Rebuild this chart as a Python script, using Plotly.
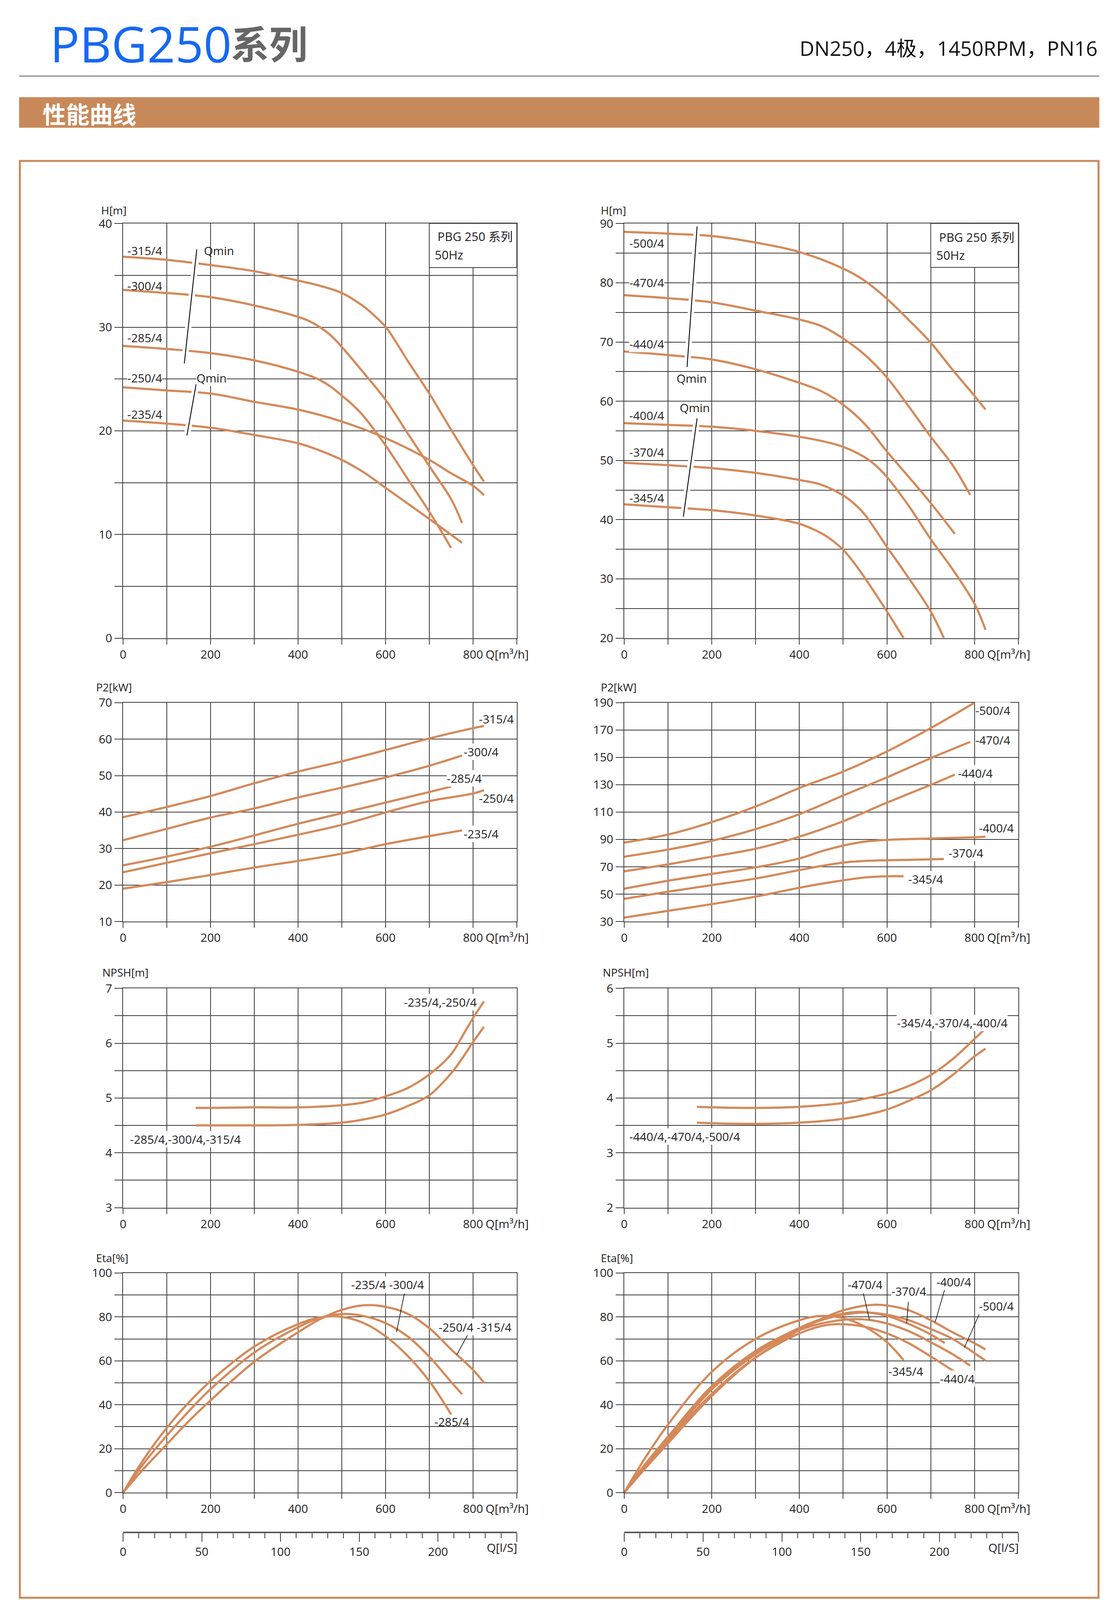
import plotly.graph_objects as go

# ======================= DATA =======================
# --- H curves, left (PBG250 -235 ... -315) ---
HL_Q_315 = [0, 100, 200, 300, 400, 450, 500, 550, 575, 600, 625, 650, 700, 750, 800, 825]
HL_H_315 = [36.8, 36.5, 36.0, 35.4, 34.5, 34.0, 33.3, 32.0, 31.1, 30.05, 28.5, 26.8, 23.6, 20.1, 16.7, 15.1]
HL_Q_300 = [0, 100, 200, 300, 400, 425, 450, 475, 500, 550, 600, 650, 700, 750, 775]
HL_H_300 = [33.6, 33.3, 32.9, 32.1, 31.0, 30.6, 30.0, 29.2, 28.1, 25.6, 23.0, 19.8, 16.6, 13.4, 11.1]
HL_Q_285 = [0, 100, 200, 300, 400, 450, 475, 500, 525, 550, 600, 650, 700, 750]
HL_H_285 = [28.2, 27.9, 27.5, 26.8, 25.7, 24.9, 24.25, 23.4, 22.5, 21.4, 18.6, 15.4, 12.2, 8.7]
HL_Q_250 = [0, 100, 200, 300, 400, 500, 600, 700, 750, 800, 825]
HL_H_250 = [24.2, 23.9, 23.6, 22.8, 22.05, 20.9, 19.3, 17.2, 15.9, 14.7, 13.8]
HL_Q_235 = [0, 100, 200, 300, 400, 450, 500, 550, 600, 700, 775]
HL_H_235 = [21.0, 20.7, 20.3, 19.6, 18.8, 18.1, 17.2, 16.0, 14.5, 11.5, 9.2]

# --- H curves, right (-345 ... -500) ---
HR_Q_500 = [0, 100, 200, 300, 400, 500, 550, 600, 650, 700, 750, 800, 825]
HR_H_500 = [88.6, 88.3, 87.9, 86.8, 85.2, 82.4, 80.3, 77.3, 73.7, 69.9, 65.3, 60.9, 58.6]
HR_Q_470 = [0, 100, 200, 300, 400, 450, 500, 550, 600, 650, 700, 750, 790]
HR_H_470 = [77.9, 77.4, 76.7, 75.3, 73.8, 72.7, 70.6, 67.8, 64.0, 59.1, 54.0, 49.2, 44.2]
HR_Q_440 = [0, 100, 200, 300, 400, 450, 500, 550, 600, 650, 700, 755]
HR_H_440 = [68.4, 67.8, 67.05, 65.4, 63.1, 61.7, 59.4, 56.1, 51.5, 47.2, 42.8, 37.6]
HR_Q_400 = [0, 100, 200, 300, 400, 450, 500, 550, 575, 600, 650, 700, 750, 800, 825]
HR_H_400 = [56.3, 56.0, 55.7, 55.0, 54.0, 53.3, 52.3, 50.5, 49.1, 47.2, 42.3, 36.7, 31.6, 25.8, 21.4]
HR_Q_370 = [0, 100, 200, 300, 400, 450, 500, 525, 550, 600, 650, 700, 730]
HR_H_370 = [49.6, 49.2, 48.7, 47.9, 46.7, 45.9, 44.1, 42.7, 40.8, 35.4, 30.1, 24.5, 20.0]
HR_Q_345 = [0, 100, 200, 300, 400, 450, 475, 500, 525, 550, 600, 638]
HR_H_345 = [42.6, 42.1, 41.6, 40.7, 39.3, 37.7, 36.5, 34.9, 32.7, 30.1, 24.5, 20.0]

# --- P2 left ---
PL_Q_315 = [0, 100, 200, 300, 400, 500, 600, 700, 800, 825]
PL_P_315 = [38.6, 41.4, 44.4, 47.9, 51.1, 53.9, 57.0, 60.2, 63.0, 63.6]
PL_Q_300 = [0, 100, 200, 300, 400, 500, 600, 700, 775]
PL_P_300 = [32.3, 35.4, 38.5, 41.0, 44.0, 46.7, 49.5, 52.7, 55.5]
PL_Q_285 = [0, 100, 200, 300, 400, 500, 600, 700, 750]
PL_P_285 = [25.4, 27.8, 30.5, 33.6, 36.8, 39.7, 42.6, 45.5, 47.0]
PL_Q_250 = [0, 100, 200, 300, 400, 500, 600, 700, 800, 825]
PL_P_250 = [23.5, 26.1, 28.7, 31.2, 33.8, 36.5, 39.9, 43.0, 45.1, 46.0]
PL_Q_235 = [0, 100, 200, 300, 400, 500, 600, 700, 775]
PL_P_235 = [19.0, 20.8, 22.75, 24.8, 26.6, 28.6, 31.2, 33.4, 35.0]

# --- P2 right ---
PR_Q_500 = [0, 100, 200, 300, 400, 500, 600, 700, 800]
PR_P_500 = [87.7, 93.6, 102.7, 114.1, 127.6, 139.6, 154.3, 171.4, 190.0]
PR_Q_470 = [0, 100, 200, 300, 400, 500, 600, 700, 790]
PR_P_470 = [77.4, 82.6, 89.0, 97.5, 108.5, 122.1, 135.4, 149.4, 161.3]
PR_Q_440 = [0, 100, 200, 300, 400, 500, 600, 700, 755]
PR_P_440 = [66.7, 71.8, 77.4, 83.2, 92.0, 103.3, 116.9, 129.9, 137.4]
PR_Q_400 = [0, 100, 200, 300, 400, 450, 500, 550, 600, 700, 800, 825]
PR_P_400 = [54.0, 59.8, 64.8, 69.6, 76.1, 81.3, 85.5, 88.4, 89.7, 90.7, 91.6, 92.0]
PR_Q_370 = [0, 100, 200, 300, 400, 450, 500, 550, 600, 700, 730]
PR_P_370 = [46.6, 51.8, 56.6, 61.4, 67.6, 70.6, 73.1, 74.3, 74.8, 75.4, 75.7]
PR_Q_345 = [0, 100, 200, 300, 400, 450, 500, 550, 600, 638]
PR_P_345 = [32.9, 37.8, 42.7, 48.2, 54.7, 57.6, 60.1, 62.2, 63.1, 63.1]

# --- NPSH left ---
NL_Q_UP = [166, 200, 300, 400, 500, 550, 600, 650, 700, 750, 775, 800, 825]
NL_N_UP = [4.82, 4.82, 4.83, 4.83, 4.87, 4.92, 5.03, 5.18, 5.43, 5.80, 6.12, 6.46, 6.76]
NL_Q_LO = [166, 300, 400, 500, 550, 600, 650, 700, 750, 775, 800, 825]
NL_N_LO = [4.50, 4.50, 4.51, 4.55, 4.61, 4.70, 4.85, 5.05, 5.45, 5.72, 6.02, 6.30]

# --- NPSH right ---
NR_Q_UP = [166, 200, 300, 400, 500, 550, 600, 650, 700, 750, 800, 825]
NR_N_UP = [3.84, 3.83, 3.82, 3.84, 3.91, 3.99, 4.08, 4.22, 4.42, 4.71, 5.08, 5.27]
NR_Q_LO = [166, 200, 300, 400, 500, 550, 600, 650, 700, 750, 800, 825]
NR_N_LO = [3.55, 3.54, 3.53, 3.55, 3.62, 3.69, 3.79, 3.95, 4.14, 4.42, 4.76, 4.90]

# --- Eta left ---
EL_Q_285 = [0, 50, 100, 150, 200, 300, 400, 450, 500, 550, 600, 650, 700, 750]
EL_E_285 = [0, 16, 29.5, 41, 50.8, 66.5, 76.7, 79.8, 80.0, 77.2, 71.2, 62.4, 50.8, 35.6]
EL_Q_300 = [0, 50, 100, 150, 200, 300, 400, 450, 500, 550, 600, 650, 700, 750, 775]
EL_E_300 = [0, 14, 26, 37, 47.1, 63.8, 75.3, 79.6, 81.3, 80.4, 77.2, 71.2, 61.9, 50.4, 44.8]
EL_Q_315 = [0, 50, 100, 150, 200, 300, 400, 450, 500, 550, 600, 650, 700, 750, 800, 825]
EL_E_315 = [0, 11.5, 22, 32.5, 42.0, 59.6, 73.0, 79.0, 83.2, 85.3, 84.6, 81.5, 74.9, 65.2, 55.9, 50.1]

# --- Eta right ---
ER_Q_345 = [0, 50, 100, 200, 300, 400, 445, 500, 550, 600, 638]
ER_E_345 = [0, 16.5, 31, 55, 70, 78.5, 80.4, 79.5, 75.5, 68.5, 60.3]
ER_Q_440 = [0, 50, 100, 200, 300, 400, 450, 490, 550, 600, 650, 700, 755]
ER_E_440 = [0, 12.5, 23.5, 45, 61.5, 72.5, 75.8, 76.7, 75.5, 72.5, 68, 62, 55.0]
ER_Q_400 = [0, 50, 100, 200, 300, 400, 450, 500, 565, 600, 650, 700, 750, 800, 825]
ER_E_400 = [0, 11.5, 22.5, 44, 61.5, 74, 79, 83, 85.5, 85.2, 83, 78.5, 73, 68, 65.2]
ER_Q_370 = [0, 50, 100, 200, 300, 400, 450, 500, 540, 600, 645, 700, 732]
ER_E_370 = [0, 13.5, 25.5, 48.5, 64.5, 75, 79, 81.5, 82.3, 80.5, 77.2, 72, 68.1]
ER_Q_500 = [0, 50, 100, 200, 300, 400, 450, 500, 550, 600, 650, 700, 750, 800, 825]
ER_E_500 = [0, 12.5, 24, 47, 63, 74.5, 78.5, 81, 82, 81, 78.5, 74.5, 70, 63.5, 60.1]
ER_Q_470 = [0, 50, 100, 200, 300, 400, 450, 520, 560, 600, 650, 700, 750, 790]
ER_E_470 = [0, 13.5, 25, 48, 64, 74, 77, 79, 78.6, 77, 73.5, 68.5, 63, 57.8]

# --- Qmin marker lines (Q, value pairs) ---
QMIN_L1_Q = [168.5, 140]
QMIN_L1_H = [37.5, 26.5]
QMIN_L2_Q = [167, 146]
QMIN_L2_H = [24.5, 19.55]
QMIN_R1_Q = [166.4, 143.5]
QMIN_R1_H = [89.5, 65.8]
QMIN_R2_Q = [166.4, 135]
QMIN_R2_H = [57.1, 40.5]

# --- label pointer lines in Eta charts ---
PTR_EL_Q = [[643, 625], [790, 763]]
PTR_EL_E = [[90.6, 73.0], [72.6, 62.8]]
PTR_ER_Q = [[546, 560], [649, 645], [732, 710], [812, 777]]
PTR_ER_E = [[90.8, 78.6], [86.9, 77.2], [92.6, 77.6], [81.8, 66.1]]

# --- tick labels ---
Q_TICKS = list(range(0, 901, 100))
Q_TICKTEXT = ["0", "", "200", "", "400", "", "600", "", "800", ""]
LS_TICKS = [0, 50, 100, 150, 200, 250]
LS_TICKTEXT = ["0", "50", "100", "150", "200", ""]

# ======================= STYLE / LAYOUT =======================
W, H = 2862, 4146
CURVE = "#D4895A"
GRID = "#3a3a3a"
ORANGE = "#C8895A"
FONT = "Open Sans, Noto Sans CJK SC, sans-serif"
CJK = "Noto Sans CJK SC, sans-serif"
TXT = "#1e1e1e"


def fx(p):
    return p / W


def fy(p):
    return 1 - p / H


COLS = [(307, 1318), (1594, 2606)]
ROWS = [(556, 1628), (1795, 2361), (2534, 3101), (3270, 3838)]

fig = go.Figure()
layout = dict(
    width=W, height=H, margin=dict(l=0, r=0, t=0, b=0),
    paper_bgcolor="white", plot_bgcolor="white", showlegend=False,
    font=dict(family=FONT, size=30, color=TXT),
)

# y-axis specs per subplot: (range, tick step, label step)
YSPEC = [
    ([0, 40], 5, 10), ([20, 90], 5, 10),
    ([10, 70], 10, 10), ([30, 190], 20, 20),
    ([3, 7], 0.5, 1), ([2, 6], 0.5, 1),
    ([0, 100], 10, 20), ([0, 100], 10, 20),
]


def fmt(v):
    return str(int(round(v)))


for i in range(8):
    r, c = divmod(i, 2)
    n = i + 1
    xd = [fx(COLS[c][0]), fx(COLS[c][1])]
    yd = [fy(ROWS[r][1]), fy(ROWS[r][0])]
    rng, step, lab = YSPEC[i]
    vals = []
    v = rng[0]
    while v <= rng[1] + 1e-9:
        vals.append(round(v, 3))
        v += step
    texts = [fmt(t) if abs((t - rng[0]) / lab - round((t - rng[0]) / lab)) < 1e-6 else "" for t in vals]
    common = dict(showgrid=True, gridcolor=GRID, gridwidth=2, zeroline=False,
                  showline=True, mirror=True, linecolor=GRID, linewidth=2,
                  ticks="outside", tickwidth=2, tickcolor=GRID,
                  tickfont=dict(size=30, color=TXT, family=FONT), fixedrange=True)
    layout["xaxis%d" % n] = dict(domain=xd, anchor="y%d" % n, range=[0, 900], ticklen=14,
                                 tickmode="array", tickvals=Q_TICKS, ticktext=Q_TICKTEXT, **common)
    layout["yaxis%d" % n] = dict(domain=yd, anchor="x%d" % n, range=rng, ticklen=20,
                                 tickmode="array", tickvals=vals, ticktext=texts, **common)

# l/s secondary axes
for k, c in enumerate(COLS):
    n = 9 + k
    ypos = fy(3939)
    layout["xaxis%d" % n] = dict(domain=[fx(c[0]), fx(c[1])], anchor="y%d" % n, range=[0, 250],
                                 showgrid=False, zeroline=False, showline=True, linecolor="#5a5a5a",
                                 linewidth=4, ticks="outside", ticklen=22, tickwidth=2, tickcolor=GRID,
                                 tickmode="array", tickvals=LS_TICKS, ticktext=LS_TICKTEXT,
                                 tickfont=dict(size=30, color=TXT, family=FONT),
                                 minor=dict(dtick=10, ticklen=13, tickwidth=2, tickcolor=GRID, ticks="outside", showgrid=False),
                                 fixedrange=True)
    layout["yaxis%d" % n] = dict(domain=[ypos, ypos + 0.0003], anchor="x%d" % n, visible=False,
                                 range=[0, 1], fixedrange=True)
    fig.add_trace(go.Scatter(x=[0, 250], y=[0.5, 0.5], mode="markers", marker=dict(opacity=0),
                             xaxis="x%d" % n, yaxis="y%d" % n, hoverinfo="skip"))


def curve(q, v, n):
    fig.add_trace(go.Scatter(x=q, y=v, mode="lines", xaxis="x%d" % n, yaxis="y%d" % n,
                             line=dict(color=CURVE, width=5.5, shape="spline", smoothing=1.0),
                             hoverinfo="skip"))


def blackline(q, v, n, w=2.2, gap=False):
    if gap:
        fig.add_trace(go.Scatter(x=q, y=v, mode="lines", xaxis="x%d" % n, yaxis="y%d" % n,
                                 line=dict(color="white", width=16), hoverinfo="skip"))
    fig.add_trace(go.Scatter(x=q, y=v, mode="lines", xaxis="x%d" % n, yaxis="y%d" % n,
                             line=dict(color="black", width=w), hoverinfo="skip"))


# H left
for q, v in [(HL_Q_315, HL_H_315), (HL_Q_300, HL_H_300), (HL_Q_285, HL_H_285),
             (HL_Q_250, HL_H_250), (HL_Q_235, HL_H_235)]:
    curve(q, v, 1)
blackline(QMIN_L1_Q, QMIN_L1_H, 1, gap=True)
blackline(QMIN_L2_Q, QMIN_L2_H, 1, gap=True)
# H right
for q, v in [(HR_Q_500, HR_H_500), (HR_Q_470, HR_H_470), (HR_Q_440, HR_H_440),
             (HR_Q_400, HR_H_400), (HR_Q_370, HR_H_370), (HR_Q_345, HR_H_345)]:
    curve(q, v, 2)
blackline(QMIN_R1_Q, QMIN_R1_H, 2, gap=True)
blackline(QMIN_R2_Q, QMIN_R2_H, 2, gap=True)
# P2
for q, v in [(PL_Q_315, PL_P_315), (PL_Q_300, PL_P_300), (PL_Q_285, PL_P_285),
             (PL_Q_250, PL_P_250), (PL_Q_235, PL_P_235)]:
    curve(q, v, 3)
for q, v in [(PR_Q_500, PR_P_500), (PR_Q_470, PR_P_470), (PR_Q_440, PR_P_440),
             (PR_Q_400, PR_P_400), (PR_Q_370, PR_P_370), (PR_Q_345, PR_P_345)]:
    curve(q, v, 4)
# NPSH
curve(NL_Q_UP, NL_N_UP, 5)
curve(NL_Q_LO, NL_N_LO, 5)
curve(NR_Q_UP, NR_N_UP, 6)
curve(NR_Q_LO, NR_N_LO, 6)
# Eta
for q, v in [(EL_Q_285, EL_E_285), (EL_Q_300, EL_E_300), (EL_Q_315, EL_E_315)]:
    curve(q, v, 7)
for q, v in [(ER_Q_345, ER_E_345), (ER_Q_440, ER_E_440), (ER_Q_400, ER_E_400),
             (ER_Q_370, ER_E_370), (ER_Q_500, ER_E_500), (ER_Q_470, ER_E_470)]:
    curve(q, v, 8)
for q, v in zip(PTR_EL_Q, PTR_EL_E):
    blackline(q, v, 7, w=1.6)
for q, v in zip(PTR_ER_Q, PTR_ER_E):
    blackline(q, v, 8, w=1.6)

ann = []


def lab(text, x, y, n, anchor="left", bg=False, size=30):
    d = dict(text=text, x=x, y=y, xref="x%d" % n, yref="y%d" % n, showarrow=False,
             xanchor=anchor, yanchor="middle", font=dict(size=size, color=TXT, family=FONT),
             borderpad=0)
    if bg:
        d["bgcolor"] = "white"
    ann.append(d)


# curve labels
for t, y in [("-315/4", 37.4), ("-300/4", 34.0), ("-285/4", 29.0), ("-235/4", 21.6)]:
    lab(t, 8.5, y, 1)
lab("-250/4", 8.5, 25.1, 1, bg=True)
lab("Qmin", 184, 37.4, 1)
lab("Qmin", 167, 25.1, 1, bg=True)

for t, y, bg in [("-500/4", 86.7, False), ("-470/4", 80.0, True), ("-440/4", 69.7, True),
                 ("-400/4", 57.6, False), ("-370/4", 51.4, False), ("-345/4", 43.7, False)]:
    lab(t, 11, y, 2, bg=bg)
lab("Qmin", 154, 63.9, 2, anchor="center")
lab("Qmin", 161, 58.9, 2, anchor="center")

for t, x, y, bg in [("-315/4", 813, 65.5, False), ("-300/4", 778, 56.5, True), ("-285/4", 739, 49.3, True),
                    ("-250/4", 813, 43.8, False), ("-235/4", 778, 34.0, True)]:
    lab(t, x, y, 3, bg=bg)
for t, x, y, bg in [("-500/4", 801, 184.4, True), ("-470/4", 801, 162.6, True), ("-440/4", 761, 138.4, True),
                    ("-400/4", 809, 98.5, False), ("-370/4", 740, 80.0, True), ("-345/4", 648, 61.1, True)]:
    lab(t, x, y, 4, bg=bg)

lab("-235/4,-250/4", 641, 6.75, 5, bg=True)
lab("-285/4,-300/4,-315/4", 15, 4.25, 5, bg=True)
lab("-345/4,-370/4,-400/4", 622, 5.37, 6, bg=True)
lab("-440/4,-470/4,-500/4", 11, 3.30, 6, bg=True)

lab("-235/4 -300/4", 521, 94.7, 7, bg=True)
lab("-250/4 -315/4", 721, 75.3, 7, bg=True)
lab("-285/4", 711, 32.3, 7)
for t, x, y, bg in [("-470/4", 509, 94.7, True), ("-370/4", 609, 91.7, True), ("-400/4", 712, 95.9, True),
                    ("-500/4", 809, 85.0, True), ("-345/4", 602, 55.3, False), ("-440/4", 720, 51.9, True)]:
    lab(t, x, y, 8, bg=bg)

# info boxes in H charts
shapes = []
for n, y0, y1, ty1, ty2 in [(1, 35.75, 40, 38.77, 37.0), (2, 82.6, 90, 87.7, 84.65)]:
    shapes.append(dict(type="rect", xref="x%d" % n, yref="y%d" % n, x0=700, x1=900, y0=y0, y1=y1,
                       fillcolor="white", line=dict(color=GRID, width=2), layer="above"))
    lab("PBG 250 系列", 718, ty1, n, size=31)
    lab("50Hz", 712, ty2, n, size=31)

# Q[m3/h] unit labels next to 800
for n in range(1, 9):
    r, c = divmod(n - 1, 2)
    ann.append(dict(text="Q[m³/h]", x=827, xref="x%d" % n, y=fy(ROWS[r][1] + 41), yref="paper",
                    xanchor="left", yanchor="middle", showarrow=False,
                    font=dict(size=30, color=TXT, family=FONT)))
# Q[l/S] labels
for k, c in enumerate(COLS):
    ann.append(dict(text="Q[l/S]", x=c[1] / W + 0.001, xref="paper", y=fy(3980), yref="paper",
                    xanchor="right", yanchor="middle", showarrow=False,
                    font=dict(size=30, color=TXT, family=FONT)))

# axis titles
for text, xl, xr, yp in [("H[m]", 249, 1532, 521), ("P2[kW]", 236, 1532, 1755),
                         ("NPSH[m]", 252, 1537, 2492), ("Eta[%]", 236, 1532, 3231)]:
    for xp in (xl, xr):
        ann.append(dict(text=text, x=fx(xp), y=fy(yp), xref="paper", yref="paper",
                        xanchor="left", yanchor="middle", showarrow=False,
                        font=dict(size=28, color=TXT, family=FONT)))

# header
ann.append(dict(text="PBG250", x=fx(117), y=fy(90), xref="paper", yref="paper", xanchor="left",
                yanchor="middle", showarrow=False, font=dict(size=126, color="#1668F2", family=FONT)))
ann.append(dict(text="<b>系列</b>", x=fx(582), y=fy(86), xref="paper", yref="paper", xanchor="left",
                yanchor="middle", showarrow=False, font=dict(size=98, color="#666666", family=CJK)))
ann.append(dict(text="DN250，4极，1450RPM，PN16", x=fx(2812), y=fy(102), xref="paper", yref="paper",
                xanchor="right", yanchor="middle", showarrow=False,
                font=dict(size=52, color="#111111", family=FONT)))
ann.append(dict(text="<b>性能曲线</b>", x=fx(98), y=fy(270), xref="paper", yref="paper", xanchor="left",
                yanchor="middle", showarrow=False, font=dict(size=60, color="white", family=CJK)))

shapes.append(dict(type="line", xref="paper", yref="paper", x0=fx(40), x1=fx(2814), y0=fy(174.5), y1=fy(174.5),
                   line=dict(color="#8a8a8a", width=3)))
shapes.append(dict(type="rect", xref="paper", yref="paper", x0=fx(40), x1=fx(2814), y0=fy(308), y1=fy(229),
                   fillcolor=ORANGE, line=dict(width=0)))
shapes.append(dict(type="rect", xref="paper", yref="paper", x0=fx(42), x1=fx(2812), y0=fy(4110), y1=fy(394),
                   fillcolor="rgba(0,0,0,0)", line=dict(color=ORANGE, width=5)))

layout["annotations"] = ann
layout["shapes"] = shapes
fig.update_layout(**layout)

fig.write_html("out.html", config={"displayModeBar": False, "staticPlot": True},
               post_script="document.body.style.margin='0';document.body.style.overflow='hidden';")
